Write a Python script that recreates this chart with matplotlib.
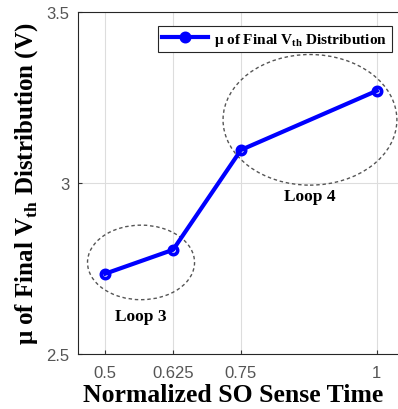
import matplotlib
matplotlib.use("Agg")
import matplotlib.pyplot as plt
from matplotlib.patches import Ellipse

sense_time = [0.5, 0.625, 0.75, 1.0]
mu_vth = [2.735, 2.805, 3.097, 3.27]
xticks = [0.5, 0.625, 0.75, 1.0]
xticklabels = ["0.5", "0.625", "0.75", "1"]
yticks = [2.5, 3.0, 3.5]
yticklabels = ["2.5", "3", "3.5"]

SERIF = "Liberation Serif"
plt.rcParams["mathtext.fontset"] = "custom"
plt.rcParams["mathtext.rm"] = SERIF + ":bold"
plt.rcParams["mathtext.bf"] = SERIF + ":bold"

fig = plt.figure(figsize=(3.98, 4.10), dpi=100)
ax = fig.add_axes([0.196, 0.134, 0.819, 0.834])

ax.plot(sense_time, mu_vth, color="#0000ff", lw=3, marker="o", ms=6,
        mfc="none", mec="#0000ff", mew=2.6, zorder=3,
        label=r"μ of Final V$_{\mathrm{th}}$ Distribution")

# dashed loop ellipses
ax.add_patch(Ellipse((0.566, 2.768), 0.197, 0.218, fill=False, ls=(0, (2.5, 2)),
                     ec="#555555", lw=1.0, zorder=2))
ax.add_patch(Ellipse((0.877, 3.185), 0.32, 0.382, fill=False, ls=(0, (2.5, 2)),
                     ec="#555555", lw=1.0, zorder=2))
ax.text(0.566, 2.612, "Loop 3", ha="center", va="center", fontsize=12.5,
        fontweight="bold", family=SERIF)
ax.text(0.877, 2.962, "Loop 4", ha="center", va="center", fontsize=12.5,
        fontweight="bold", family=SERIF)

ax.set_xlim(0.45, 1.05)
ax.set_ylim(2.5, 3.5)
ax.set_xticks(xticks)
ax.set_xticklabels(xticklabels)
ax.set_yticks(yticks)
ax.set_yticklabels(yticklabels)
ax.tick_params(labelsize=12, labelcolor="#555555", direction="in", length=3,
               color="#333333", pad=6, labelfontfamily="Liberation Sans")
ax.tick_params(axis="x", pad=8)
ax.grid(True, color="#dddddd", lw=0.8)
ax.set_axisbelow(True)
for s in ax.spines.values():
    s.set_color("#262626")
    s.set_linewidth(0.8)

ax.set_xlabel("Normalized SO Sense Time", fontsize=18.5, fontweight="bold",
              family=SERIF)
ax.xaxis.set_label_coords(0.477, -0.085)
ax.set_ylabel(r"μ of Final V$_{\mathrm{th}}$ Distribution (V)", fontsize=18,
              fontweight="bold", family=SERIF, labelpad=5)

leg = ax.legend(loc="upper right", bbox_to_anchor=(0.963, 0.959),
                borderaxespad=0,
                prop={"family": SERIF, "weight": "bold", "size": 11},
                fancybox=False, edgecolor="#262626", framealpha=1,
                handlelength=3.0, borderpad=0.3, handletextpad=0.4)
leg.get_frame().set_linewidth(0.8)
for h in leg.legend_handles:
    h.set_markerfacecolor("#0000ff")

fig.savefig("out.png", dpi=100)
